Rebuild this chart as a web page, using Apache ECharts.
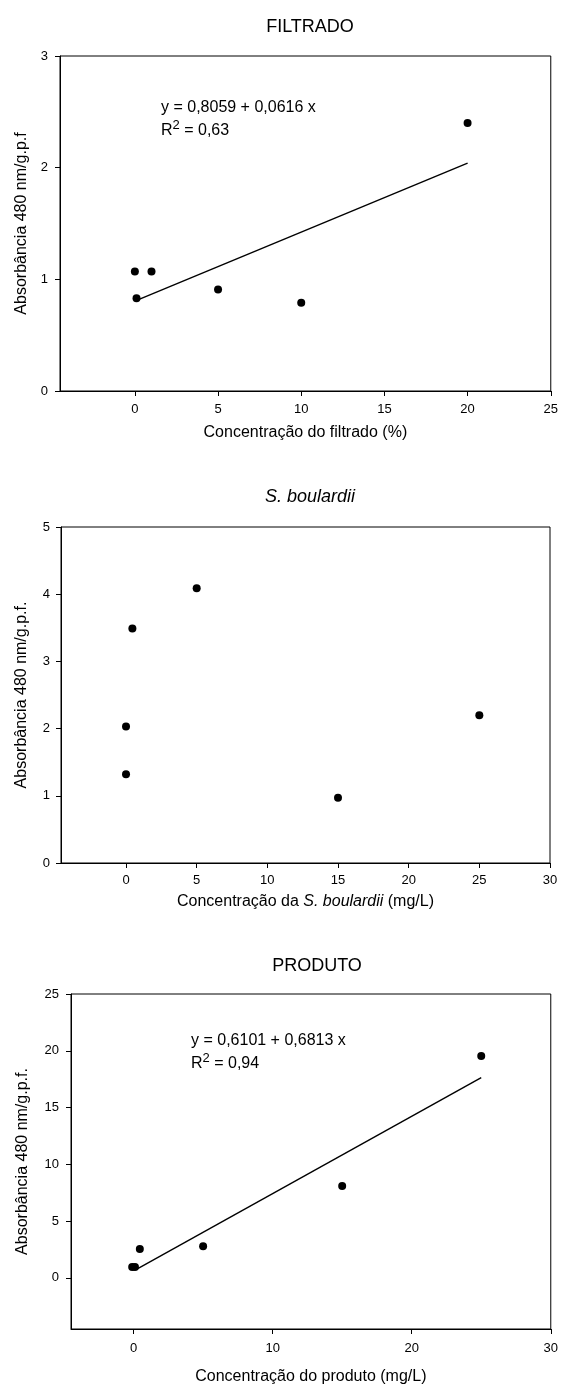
<!DOCTYPE html>
<html>
<head>
<meta charset="utf-8">
<title>Absorbância</title>
<script src="https://cdn.jsdelivr.net/npm/echarts@6/dist/echarts.min.js"></script>
<style>
  html, body { margin: 0; padding: 0; background: #fff; }
  #chart { width: 561px; height: 1386px; }
</style>
</head>
<body>
<div id="chart"></div>
<script>
// FILTRADO
const filtradoX = [0, 0.1, 1, 5, 10, 20]
const filtradoY = [1.07, 0.83, 1.07, 0.91, 0.79, 2.4]
const filtradoFitX = [0.25, 20]
const filtradoFitY = [0.82, 2.04]
const filtradoXTicks = [0, 5, 10, 15, 20, 25]
const filtradoYTicks = [0, 1, 2, 3]

// S. boulardii
const boulardiiX = [0, 0, 0.45, 5, 15, 25]
const boulardiiY = [1.32, 2.03, 3.49, 4.09, 0.97, 2.2]
const boulardiiXTicks = [0, 5, 10, 15, 20, 25, 30]
const boulardiiYTicks = [0, 1, 2, 3, 4, 5]

// PRODUTO
const produtoX = [-0.1, 0.1, 0.45, 5, 15, 25]
const produtoY = [0.95, 0.95, 2.55, 2.78, 8.1, 19.55]
const produtoFitX = [0.3, 25]
const produtoFitY = [0.81, 17.64]
const produtoXTicks = [0, 10, 20, 30]
const produtoYTicks = [0, 5, 10, 15, 20, 25]

const FONT = 'Liberation Sans, Arial, sans-serif'
const yName = 'Absorbância 480 nm/g.p.f.'

function pairs(xs, ys) {
    return xs.map((x, i) => [x, ys[i]])
}

function xAxis(idx, min, max, ticks, name, nameGap, labelMargin) {
    return {
        gridIndex: idx,
        type: 'value',
        min: min,
        max: max,
        name: name,
        nameLocation: 'middle',
        nameGap: nameGap,
        nameTextStyle: {
            color: '#000', fontSize: 16, fontFamily: FONT,
            rich: { i: { fontStyle: 'italic', fontSize: 16, fontFamily: FONT, color: '#000' } },
        },
        axisLine: { onZero: false, lineStyle: { color: '#000', width: 1 } },
        axisTick: { customValues: ticks, length: 5, lineStyle: { color: '#000' } },
        axisLabel: { customValues: ticks, margin: labelMargin, color: '#000', fontSize: 13, fontFamily: FONT },
        splitLine: { show: false },
    }
}

function yAxis(idx, min, max, ticks, nameGap, labelMargin) {
    return {
        gridIndex: idx,
        type: 'value',
        min: min,
        max: max,
        name: idx === 0 ? 'Absorbância 480 nm/g.p.f' : yName,
        nameLocation: 'middle',
        nameGap: nameGap,
        nameTextStyle: { color: '#000', fontSize: 16, fontFamily: FONT },
        axisLine: { show: true, onZero: false, lineStyle: { color: '#000', width: 1 } },
        axisTick: { show: true, customValues: ticks, length: 5, lineStyle: { color: '#000' } },
        axisLabel: { customValues: ticks, margin: labelMargin, color: '#000', fontSize: 13, fontFamily: FONT },
        splitLine: { show: false },
    }
}

function dots(idx, data) {
    return {
        type: 'scatter',
        xAxisIndex: idx,
        yAxisIndex: idx,
        symbolSize: 8,
        itemStyle: { color: '#000', opacity: 1 },
        data: data,
    }
}

function fit(idx, data) {
    return {
        type: 'line',
        xAxisIndex: idx,
        yAxisIndex: idx,
        showSymbol: false,
        lineStyle: { color: '#000', width: 1.4 },
        data: data,
    }
}

function eqText(left, top, line1, r2) {
    return [{
        type: 'text',
        left: left,
        top: top,
        style: { text: line1, font: '16px ' + FONT, fill: '#000' },
    }, {
        type: 'text',
        left: left,
        top: top + 19,
        style: {
            text: '{a|R}{b|2}{a| = ' + r2 + '}',
            rich: {
                a: { fontSize: 16, fontFamily: FONT, fill: '#000', lineHeight: 20, verticalAlign: 'bottom' },
                b: { fontSize: 13, fontFamily: FONT, fill: '#000', lineHeight: 13, verticalAlign: 'top' },
            },
        },
    }]
}

const chart = echarts.init(document.getElementById('chart'))
chart.setOption({
    animation: false,
    backgroundColor: '#fff',
    title: [
        { text: 'FILTRADO', left: 305, top: 13, textAlign: 'center',
          textStyle: { fontSize: 18, fontWeight: 'normal', color: '#000', fontFamily: FONT } },
        { text: 'S. boulardii', left: 305, top: 483, textAlign: 'center',
          textStyle: { fontSize: 18, fontWeight: 'normal', fontStyle: 'italic', color: '#000', fontFamily: FONT } },
        { text: 'PRODUTO', left: 312, top: 952, textAlign: 'center',
          textStyle: { fontSize: 18, fontWeight: 'normal', color: '#000', fontFamily: FONT } },
    ],
    grid: [
        { left: 60, top: 56, width: 491, height: 335, show: true, borderColor: '#000', borderWidth: 1 },
        { left: 61, top: 527, width: 489, height: 336, show: true, borderColor: '#000', borderWidth: 1 },
        { left: 71, top: 994, width: 483, height: 336, show: true, borderColor: '#000', borderWidth: 1 },
    ],
    xAxis: [
        xAxis(0, -4.5, 25, filtradoXTicks, 'Concentração do filtrado (%)', 34, 12),
        xAxis(1, -4.6, 30, boulardiiXTicks, 'Concentração da {i|S. boulardii} (mg/L)', 31, 11),
        xAxis(2, -4.5, 30, produtoXTicks, 'Concentração do produto (mg/L)', 40, 13),
    ],
    yAxis: [
        yAxis(0, 0, 3, filtradoYTicks, 30, 12),
        yAxis(1, 0, 5, boulardiiYTicks, 31, 11),
        yAxis(2, -4.5, 25, produtoYTicks, 40, 12),
    ],
    series: [
        fit(0, pairs(filtradoFitX, filtradoFitY)),
        dots(0, pairs(filtradoX, filtradoY)),
        dots(1, pairs(boulardiiX, boulardiiY)),
        fit(2, pairs(produtoFitX, produtoFitY)),
        dots(2, pairs(produtoX, produtoY)),
    ],
    graphic: [
        ...eqText(161, 100, 'y = 0,8059 + 0,0616 x', '0,63'),
        ...eqText(191, 1033, 'y = 0,6101 + 0,6813 x', '0,94'),
    ],
})
</script>
</body>
</html>
